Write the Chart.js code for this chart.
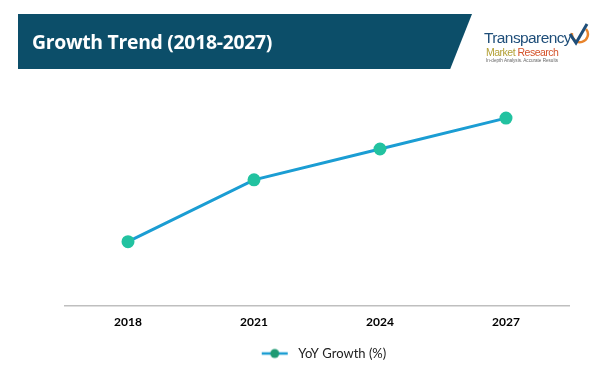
<!DOCTYPE html>
<html>
<head>
<meta charset="utf-8">
<script src="https://cdn.jsdelivr.net/npm/chart.js@4/dist/chart.umd.min.js"></script>
<style>
  html, body { margin: 0; padding: 0; background: #fff; }
  #wrap { position: relative; width: 611px; height: 378px; overflow: hidden; }
  #c { position: absolute; left: 0; top: 0; }
  #banner { position: absolute; left: 18px; top: 14px; width: 454px; height: 55px; background: #0c4e69;
            clip-path: polygon(0 0, 100% 0, 95.2% 100%, 0 100%); }
  #title { position: absolute; left: 32px; top: 28px; color: #fff; font: bold 19.4px "Open Sans", Lato, sans-serif; letter-spacing: -0.3px; white-space: nowrap; }
  #logo1 { position: absolute; left: 484px; top: 29px; color: #1f4e79; font: 15.5px "Liberation Sans", Arial, sans-serif; letter-spacing: -0.6px; white-space: nowrap; }
  #logo2 { position: absolute; left: 486px; top: 46px; font: 10.5px "Liberation Sans", Arial, sans-serif; letter-spacing: -0.5px; white-space: nowrap; }
  #logo3 { position: absolute; left: 486px; top: 58px; font: 4.6px "Liberation Sans", Arial, sans-serif; color: #666; white-space: nowrap; }
  #check { position: absolute; left: 566px; top: 21px; }
</style>
</head>
<body>
<div id="wrap">
  <canvas id="c" width="611" height="378"></canvas>
  <div id="banner"></div>
  <div id="title">Growth Trend (2018-2027)</div>
  <div id="logo1">Transparency</div>
  <div id="logo2"><span style="color:#b3a035">Market </span><span style="color:#d4522a">Research</span></div>
  <div id="logo3">In-depth Analysis. Accurate Results</div>
  <svg id="check" width="24" height="26" viewBox="0 0 24 26">
    <path d="M6 12 A8 8 0 1 0 20 8" fill="none" stroke="#e8842c" stroke-width="2.5"/>
    <path d="M4 13 L10 22 L21 3" fill="none" stroke="#1f4e79" stroke-width="3"/>
  </svg>
</div>
<script>
const categories = ['2018', '2021', '2024', '2027'];
const yoyGrowth = [2.9, 5.7, 7.1, 8.5];
const seriesName = 'YoY Growth (%)';

const lineColor = '#1b9dd3';
const pointColor = '#22c2a0';

// legend symbol: short line with a dot (drawn in the right part of a wider image)
const sym = document.createElement('canvas');
sym.width = 44; sym.height = 12;
(function () {
  const g = sym.getContext('2d');
  g.strokeStyle = lineColor; g.lineWidth = 2.5;
  g.beginPath(); g.moveTo(14, 6); g.lineTo(40, 6); g.stroke();
  g.fillStyle = '#1f9a72';
  g.beginPath(); g.arc(27, 6, 4.5, 0, Math.PI * 2); g.fill();
})();

new Chart(document.getElementById('c'), {
  type: 'line',
  data: {
    labels: categories,
    datasets: [{
      label: seriesName,
      data: yoyGrowth,
      borderColor: lineColor,
      borderWidth: 3,
      pointBackgroundColor: pointColor,
      pointBorderColor: pointColor,
      pointRadius: 5,
      tension: 0,
      fill: false
    }]
  },
  options: {
    responsive: false,
    animation: false,
    layout: { padding: { left: 65, right: 42, top: 85, bottom: 8 } },
    plugins: {
      tooltip: { enabled: false },
      legend: {
        position: 'bottom',
        labels: {
          usePointStyle: true,
          pointStyleWidth: 44,
          color: '#222',
          font: { family: 'Lato, "Open Sans", sans-serif', size: 13 },
          padding: 8,
          generateLabels: (chart) => chart.data.datasets.map((d, i) => ({
            text: d.label, pointStyle: sym, datasetIndex: i, hidden: false,
            fillStyle: pointColor, strokeStyle: lineColor, lineWidth: 0, fontColor: '#222'
          }))
        }
      }
    },
    scales: {
      x: {
        offset: true,
        grid: { display: false },
        border: { display: true, color: '#bfbfbf', width: 1.5 },
        ticks: { color: '#000', padding: 1, font: { family: 'Lato, "Open Sans", sans-serif', size: 12, weight: 'bold' } },
        afterFit: (scale) => { scale.height += 9; }
      },
      y: {
        display: false,
        min: 0,
        max: 10
      }
    }
  }
});
</script>
</body>
</html>
